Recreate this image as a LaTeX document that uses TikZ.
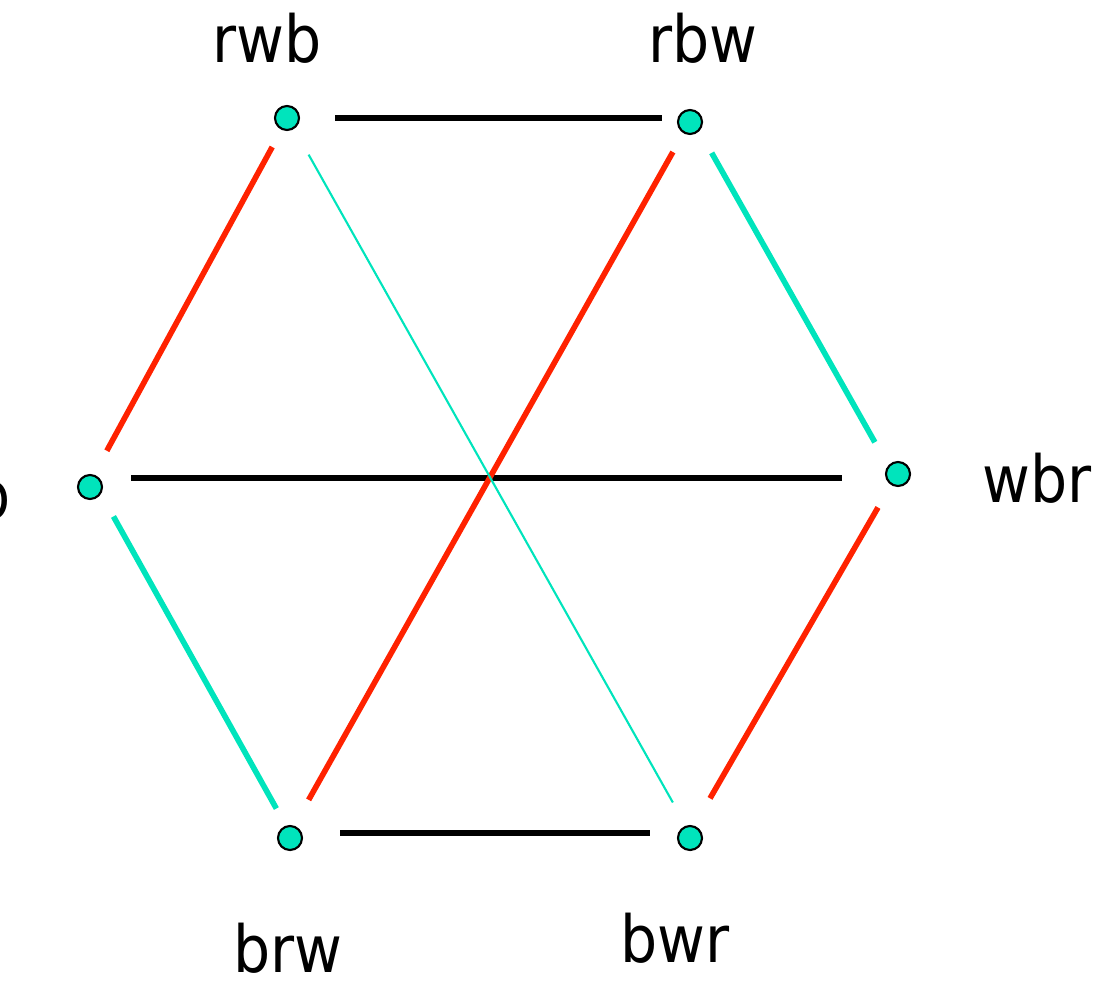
\documentclass[tikz,border=0pt]{standalone}
\usepackage{fontspec}
\setmainfont{DejaVu Sans}[FakeStretch=0.9]
\definecolor{hexteal}{RGB}{0,228,188}
\definecolor{hexred}{RGB}{255,34,0}
\begin{document}
\begin{tikzpicture}[x=0.01cm, y=-0.01cm,
    dot/.style={circle, draw, line width=0.6pt, fill=hexteal, inner sep=0pt, minimum size=0.24cm},
    perm/.style={anchor=base, font=\fontsize{18.5}{22}\selectfont},
    blackedge/.style={line width=1.6pt, black},
    rededge/.style={line width=1.6pt, hexred},
    tealedge/.style={line width=1.6pt, hexteal}]
    \useasboundingbox (0, 0) rectangle (1098, 982);
    % corners of the hexagon
    \coordinate (rwb) at (288, 118);
    \coordinate (rbw) at (692, 118);
    \coordinate (wrb) at (92, 478);
    \coordinate (wbr) at (895, 478);
    \coordinate (brw) at (290, 833);
    \coordinate (bwr) at (690, 833);
    % the six points
    \node[dot] (rwbdot) at (287, 118) {};
    \node[dot] (rbwdot) at (690, 122) {};
    \node[dot] (wrbdot) at (90, 487) {};
    \node[dot] (wbrdot) at (898, 474) {};
    \node[dot] (brwdot) at (290, 838) {};
    \node[dot] (bwrdot) at (690, 838) {};
    \node[perm] (rwblabel) at (267, 63) {rwb};
    \node[perm] (rbwlabel) at (703, 63) {rbw};
    \node[perm, anchor=base east] (wrblabel) at (23, 518) {wrb};
    \node[perm] (wbrlabel) at (1037, 502) {wbr};
    \node[perm] (brwlabel) at (288, 972) {brw};
    \node[perm] (bwrlabel) at (675, 962) {bwr};
    % black edges
    \draw[blackedge, shorten <=0.47cm, shorten >=0.30cm] (rwb) -- (rbw);
    \draw[blackedge, shorten <=0.39cm, shorten >=0.53cm] (wrb) -- (wbr);
    \draw[blackedge, shorten <=0.50cm, shorten >=0.40cm] (brw) -- (bwr);
    % red edges
    \draw[rededge, shorten <=0.33cm, shorten >=0.31cm] (rwb) -- (wrb);
    \draw[rededge, shorten <=0.39cm, shorten >=0.38cm] (rbw) -- (brw);
    \draw[rededge, shorten <=0.34cm, shorten >=0.40cm] (wbr) -- (bwr);
    % teal edges
    \draw[tealedge, shorten <=0.44cm, shorten >=0.28cm] (wrb) -- (brw);
    \draw[tealedge, shorten <=0.40cm, shorten >=0.41cm] (rbw) -- (wbr);
    \draw[hexteal, line width=0.6pt, shorten <=0.42cm, shorten >=0.35cm] (rwb) -- (bwr);
\end{tikzpicture}
\end{document}
